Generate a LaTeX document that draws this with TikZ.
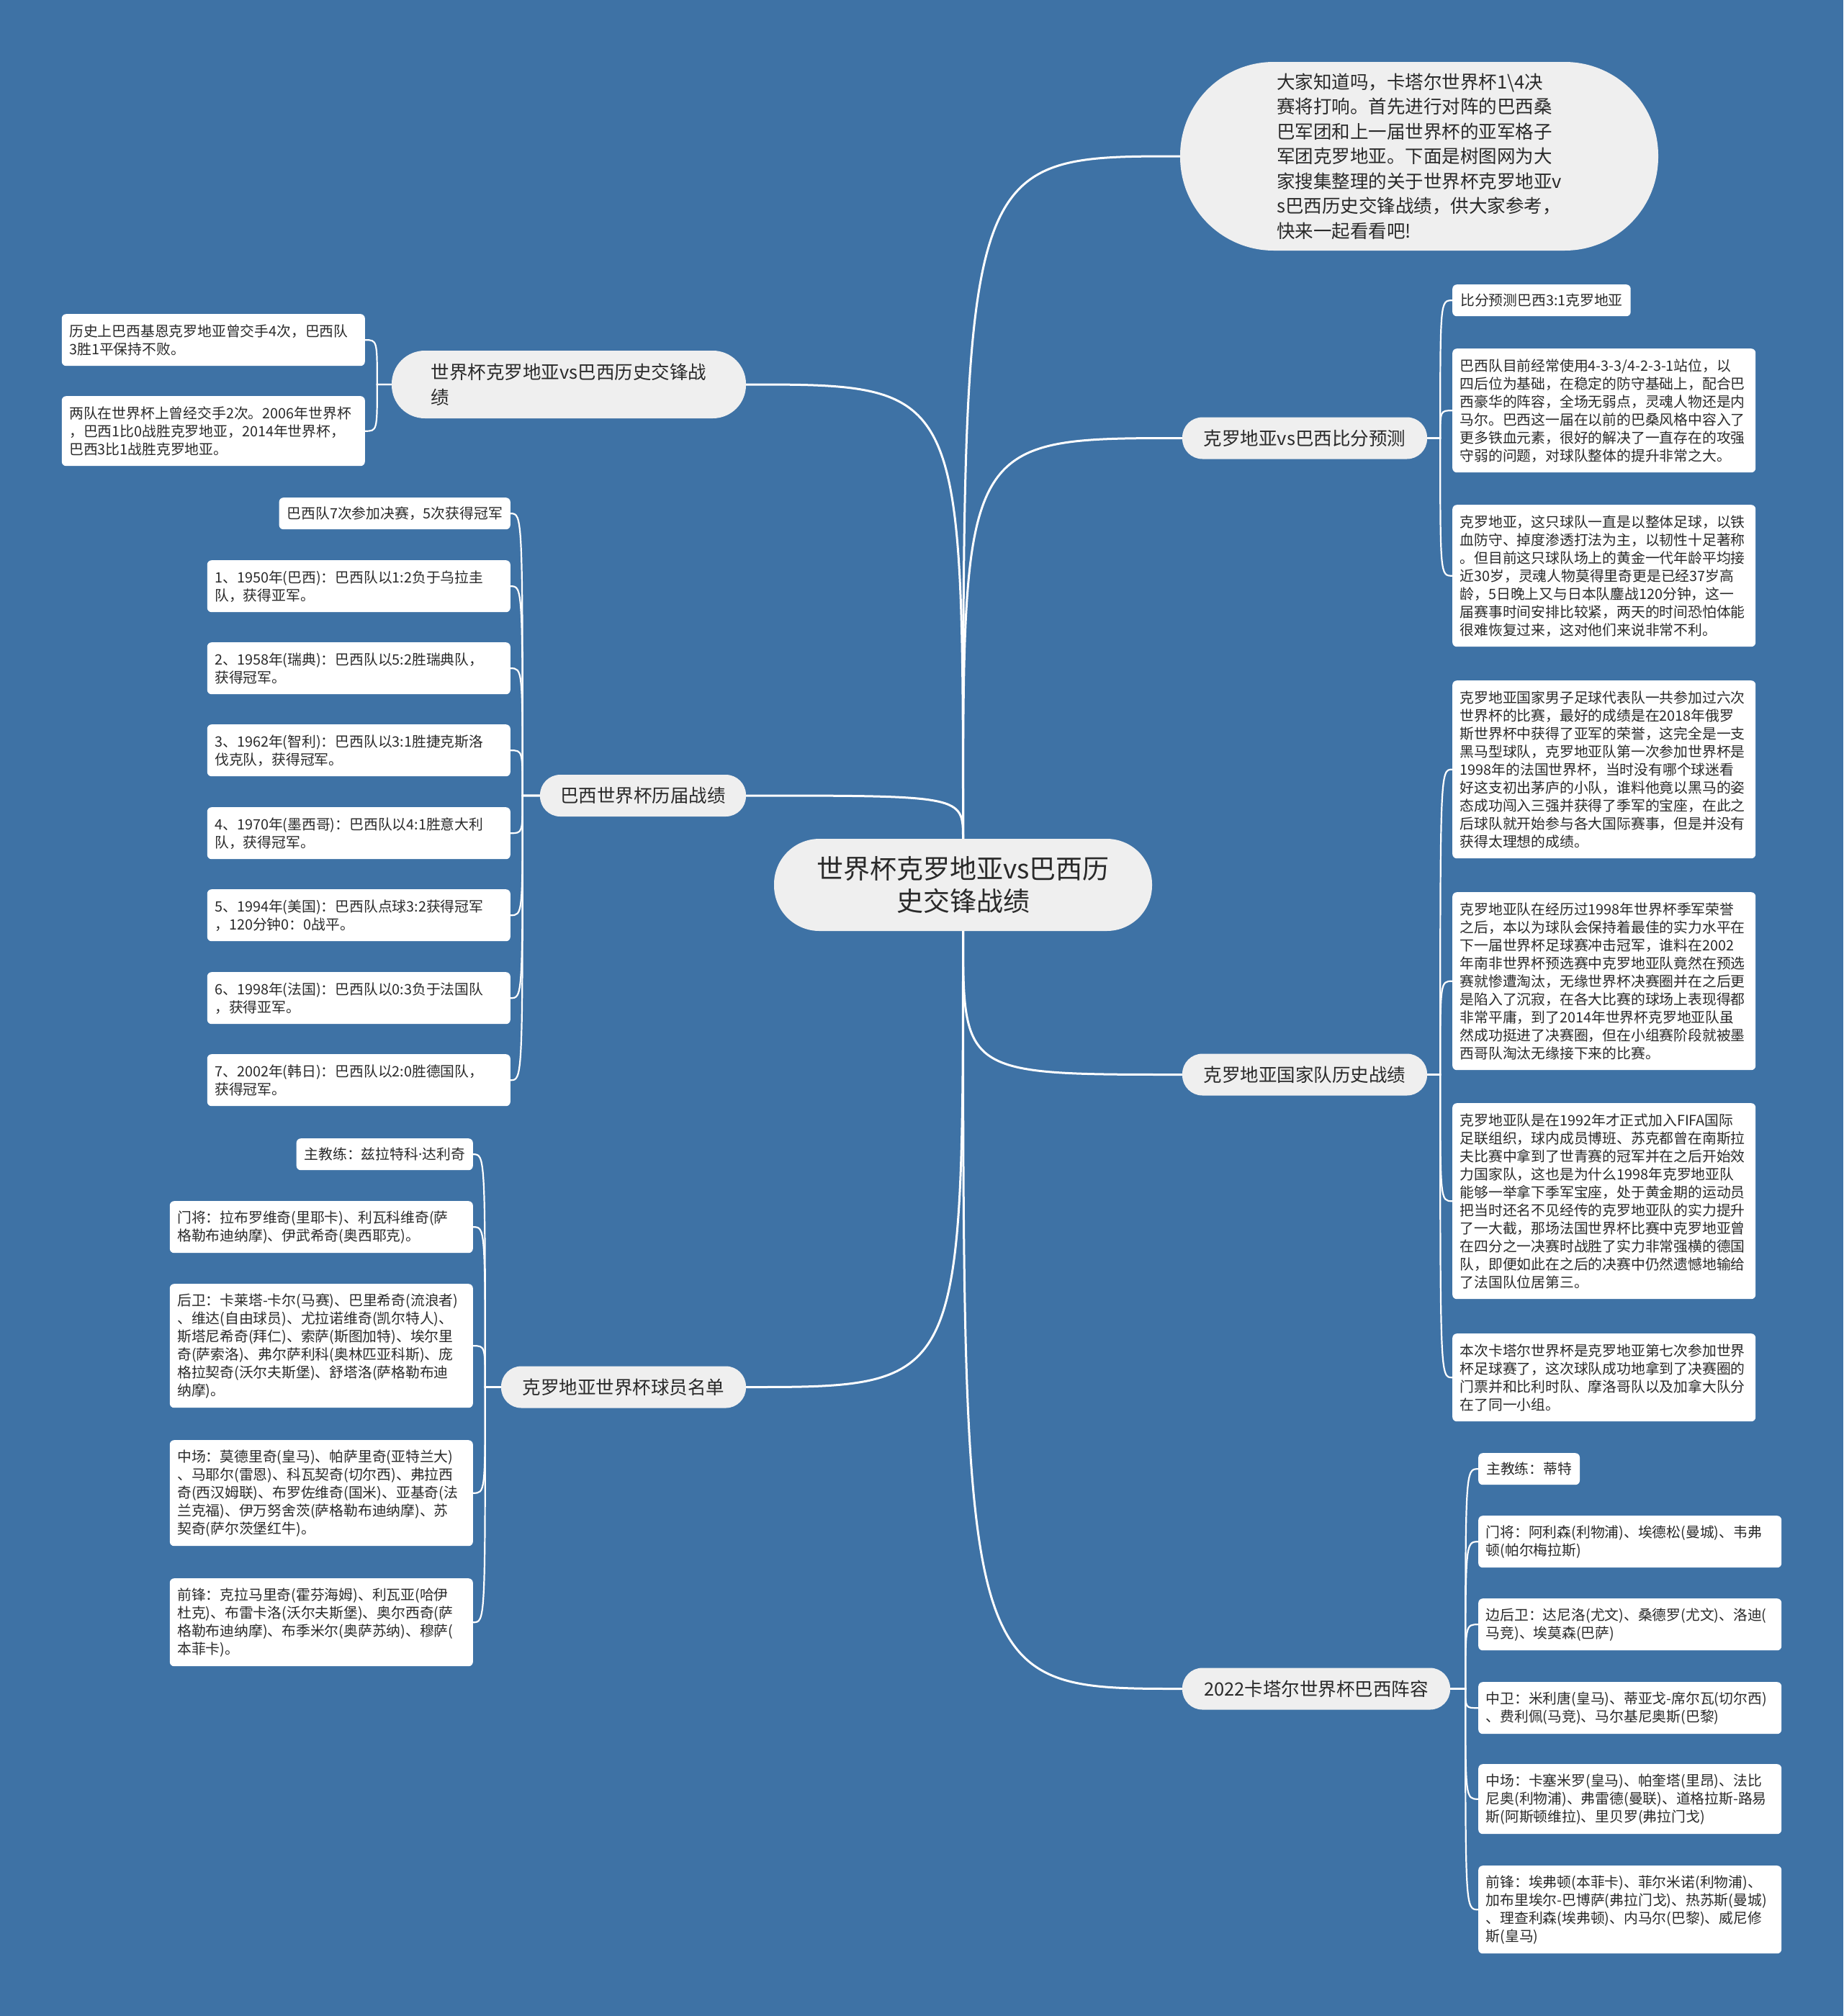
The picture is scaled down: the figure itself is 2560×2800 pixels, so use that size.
\documentclass[tikz,border=0pt]{standalone}
\usepackage{fontspec}
\setmainfont{Noto Sans CJK SC}
\newfontfamily\latinfont{Noto Sans}
\usetikzlibrary{calc}
\definecolor{bgblue}{HTML}{3E72A5}
\definecolor{pillgray}{HTML}{EFEFEF}
\definecolor{txt}{HTML}{2A2A2A}
\exhyphenpenalty=10000
\hyphenpenalty=10000
\begin{document}
\begin{tikzpicture}[x=1pt,y=-1pt,
  pill/.style={fill=pillgray, text=txt, inner sep=0pt, font=\fontsize{25.5}{35}\selectfont},
  leaf/.style={fill=white, text=txt, rounded corners=6pt, inner xsep=10.5pt, inner ysep=0pt, text width=400pt, align=left, minimum height=#1, font=\fontsize{19.8}{25}\selectfont},
  leafs/.style={fill=white, text=txt, rounded corners=6pt, inner xsep=11pt, inner ysep=0pt, minimum height=44pt, font=\fontsize{19.8}{25}\selectfont},
  conn/.style={draw=white, line width=3pt},
  sub/.style={draw=white, line width=2.2pt}]
\fill[bgblue] (0,0) rectangle (2560,2800);
\useasboundingbox (0,0) rectangle (2560,2800);

% ---------- centre and main branches ----------
\node[pill, minimum width=525pt, minimum height=128pt, rounded corners=63pt, align=center, font=\fontsize{37}{45}\selectfont] (c) at (1337.5,1229) {世界杯克罗地亚vs巴西历\\史交锋战绩};

\node[pill, minimum width=664pt, minimum height=262pt, rounded corners=130pt, align=left, font=\fontsize{25.5}{34.5}\selectfont] (intro) at (1971,217) {大家知道吗，卡塔尔世界杯1\textbackslash 4决\\赛将打响。首先进行对阵的巴西桑\\巴军团和上一届世界杯的亚军格子\\军团克罗地亚。下面是树图网为大\\家搜集整理的关于世界杯克罗地亚v\\s巴西历史交锋战绩，供大家参考，\\快来一起看看吧!};

\node[pill, minimum width=492pt, minimum height=94pt, rounded corners=46pt, align=left] (lb1) at (790,534) {世界杯克罗地亚vs巴西历史交锋战\\绩};
\node[pill, minimum width=286pt, minimum height=58pt, rounded corners=28pt] (lb2) at (893,1105) {巴西世界杯历届战绩};
\node[pill, minimum width=340pt, minimum height=58pt, rounded corners=28pt] (lb3) at (866,1926.5) {克罗地亚世界杯球员名单};
\node[pill, minimum width=340pt, minimum height=58pt, rounded corners=28pt] (rb1) at (1812,608.5) {克罗地亚vs巴西比分预测};
\node[pill, minimum width=340pt, minimum height=58pt, rounded corners=28pt] (rb2) at (1812,1492.5) {克罗地亚国家队历史战绩};
\node[pill, minimum width=372pt, minimum height=58pt, rounded corners=28pt] (rb3) at (1828,2345.5) {2022卡塔尔世界杯巴西阵容};

% ---------- left branch 1 leaves ----------
\node[leaf=72pt, anchor=north east] (l1a) at (507,436) {历史上巴西基恩克罗地亚曾交手4次，巴西队\\3胜1平保持不败。};
\node[leaf=97pt, anchor=north east] (l1b) at (507,550) {两队在世界杯上曾经交手2次。2006年世界杯\\，巴西1比0战胜克罗地亚，2014年世界杯，\\巴西3比1战胜克罗地亚。};

% ---------- left branch 2 leaves ----------
\node[leafs, anchor=north east] (l2a) at (709,691) {巴西队7次参加决赛，5次获得冠军};
\node[leaf=72pt, anchor=north east] (l2b) at (709,778) {1、1950年(巴西)：巴西队以1:2负于乌拉圭\\队，获得亚军。};
\node[leaf=72pt, anchor=north east] (l2c) at (709,892) {2、1958年(瑞典)：巴西队以5:2胜瑞典队，\\获得冠军。};
\node[leaf=72pt, anchor=north east] (l2d) at (709,1006) {3、1962年(智利)：巴西队以3:1胜捷克斯洛\\伐克队，获得冠军。};
\node[leaf=72pt, anchor=north east] (l2e) at (709,1121) {4、1970年(墨西哥)：巴西队以4:1胜意大利\\队，获得冠军。};
\node[leaf=72pt, anchor=north east] (l2f) at (709,1235) {5、1994年(美国)：巴西队点球3:2获得冠军\\，120分钟0：0战平。};
\node[leaf=72pt, anchor=north east] (l2g) at (709,1350) {6、1998年(法国)：巴西队以0:3负于法国队\\，获得亚军。};
\node[leaf=72pt, anchor=north east] (l2h) at (709,1464) {7、2002年(韩日)：巴西队以2:0胜德国队，\\获得冠军。};

% ---------- left branch 3 leaves ----------
\node[leafs, anchor=north east] (l3a) at (657,1581) {主教练：兹拉特科{\latinfont ·}达利奇};
\node[leaf=72pt, anchor=north east] (l3b) at (657,1668) {门将：拉布罗维奇(里耶卡)、利瓦科维奇(萨\\格勒布迪纳摩)、伊武希奇(奥西耶克)。};
\node[leaf=172pt, anchor=north east] (l3c) at (657,1783) {后卫：卡莱塔-卡尔(马赛)、巴里希奇(流浪者)\\、维达(自由球员)、尤拉诺维奇(凯尔特人)、\\斯塔尼希奇(拜仁)、索萨(斯图加特)、埃尔里\\奇(萨索洛)、弗尔萨利科(奥林匹亚科斯)、庞\\格拉契奇(沃尔夫斯堡)、舒塔洛(萨格勒布迪\\纳摩)。};
\node[leaf=147pt, anchor=north east] (l3d) at (657,2000) {中场：莫德里奇(皇马)、帕萨里奇(亚特兰大)\\、马耶尔(雷恩)、科瓦契奇(切尔西)、弗拉西\\奇(西汉姆联)、布罗佐维奇(国米)、亚基奇(法\\兰克福)、伊万努舍茨(萨格勒布迪纳摩)、苏\\契奇(萨尔茨堡红牛)。};
\node[leaf=122pt, anchor=north east] (l3e) at (657,2192) {前锋：克拉马里奇(霍芬海姆)、利瓦亚(哈伊\\杜克)、布雷卡洛(沃尔夫斯堡)、奥尔西奇(萨\\格勒布迪纳摩)、布季米尔(奥萨苏纳)、穆萨(\\本菲卡)。};

% ---------- right branch 1 leaves ----------
\node[leafs, anchor=north west] (r1a) at (2017,395) {比分预测巴西3:1克罗地亚};
\node[leaf=172pt, anchor=north west] (r1b) at (2017,484) {巴西队目前经常使用4-3-3/4-2-3-1站位，以\\四后位为基础，在稳定的防守基础上，配合巴\\西豪华的阵容，全场无弱点，灵魂人物还是内\\马尔。巴西这一届在以前的巴桑风格中容入了\\更多铁血元素，很好的解决了一直存在的攻强\\守弱的问题，对球队整体的提升非常之大。};
\node[leaf=197pt, anchor=north west] (r1c) at (2017,701) {克罗地亚，这只球队一直是以整体足球，以铁\\血防守、掉度渗透打法为主，以韧性十足著称\\。但目前这只球队场上的黄金一代年龄平均接\\近30岁，灵魂人物莫得里奇更是已经37岁高\\龄，5日晚上又与日本队鏖战120分钟，这一\\届赛事时间安排比较紧，两天的时间恐怕体能\\很难恢复过来，这对他们来说非常不利。};

% ---------- right branch 2 leaves ----------
\node[leaf=247pt, anchor=north west] (r2a) at (2017,945) {克罗地亚国家男子足球代表队一共参加过六次\\世界杯的比赛，最好的成绩是在2018年俄罗\\斯世界杯中获得了亚军的荣誉，这完全是一支\\黑马型球队，克罗地亚队第一次参加世界杯是\\1998年的法国世界杯，当时没有哪个球迷看\\好这支初出茅庐的小队，谁料他竟以黑马的姿\\态成功闯入三强并获得了季军的宝座，在此之\\后球队就开始参与各大国际赛事，但是并没有\\获得太理想的成绩。};
\node[leaf=247pt, anchor=north west] (r2b) at (2017,1239) {克罗地亚队在经历过1998年世界杯季军荣誉\\之后，本以为球队会保持着最佳的实力水平在\\下一届世界杯足球赛冲击冠军，谁料在2002\\年南非世界杯预选赛中克罗地亚队竟然在预选\\赛就惨遭淘汰，无缘世界杯决赛圈并在之后更\\是陷入了沉寂，在各大比赛的球场上表现得都\\非常平庸，到了2014年世界杯克罗地亚队虽\\然成功挺进了决赛圈，但在小组赛阶段就被墨\\西哥队淘汰无缘接下来的比赛。};
\node[leaf=272pt, anchor=north west] (r2c) at (2017,1532) {克罗地亚队是在1992年才正式加入FIFA国际\\足联组织，球内成员博班、苏克都曾在南斯拉\\夫比赛中拿到了世青赛的冠军并在之后开始效\\力国家队，这也是为什么1998年克罗地亚队\\能够一举拿下季军宝座，处于黄金期的运动员\\把当时还名不见经传的克罗地亚队的实力提升\\了一大截，那场法国世界杯比赛中克罗地亚曾\\在四分之一决赛时战胜了实力非常强横的德国\\队，即便如此在之后的决赛中仍然遗憾地输给\\了法国队位居第三。};
\node[leaf=122pt, anchor=north west] (r2d) at (2017,1852) {本次卡塔尔世界杯是克罗地亚第七次参加世界\\杯足球赛了，这次球队成功地拿到了决赛圈的\\门票并和比利时队、摩洛哥队以及加拿大队分\\在了同一小组。};

% ---------- right branch 3 leaves ----------
\node[leafs, anchor=north west] (r3a) at (2053,2018) {主教练：蒂特};
\node[leaf=72pt, anchor=north west] (r3b) at (2053,2105) {门将：阿利森(利物浦)、埃德松(曼城)、韦弗\\顿(帕尔梅拉斯)};
\node[leaf=72pt, anchor=north west] (r3c) at (2053,2220) {边后卫：达尼洛(尤文)、桑德罗(尤文)、洛迪(\\马竞)、埃莫森(巴萨)};
\node[leaf=72pt, anchor=north west] (r3d) at (2053,2336) {中卫：米利唐(皇马)、蒂亚戈-席尔瓦(切尔西)\\、费利佩(马竞)、马尔基尼奥斯(巴黎)};
\node[leaf=97pt, anchor=north west] (r3e) at (2053,2450) {中场：卡塞米罗(皇马)、帕奎塔(里昂)、法比\\尼奥(利物浦)、弗雷德(曼联)、道格拉斯-路易\\斯(阿斯顿维拉)、里贝罗(弗拉门戈)};
\node[leaf=122pt, anchor=north west] (r3f) at (2053,2591) {前锋：埃弗顿(本菲卡)、菲尔米诺(利物浦)、\\加布里埃尔-巴博萨(弗拉门戈)、热苏斯(曼城)\\、理查利森(埃弗顿)、内马尔(巴黎)、威尼修\\斯(皇马)};

% ---------- connectors: centre to branches ----------
\draw[conn] (c.north) .. controls (c.north |- intro.west) .. (intro.west);
\draw[conn] (c.north) .. controls (c.north |- rb1.west) .. (rb1.west);
\draw[conn] (c.north) .. controls (c.north |- lb1.east) .. (lb1.east);
\draw[conn] (c.north) .. controls (c.north |- lb2.east) .. (lb2.east);
\draw[conn] (c.south) .. controls (c.south |- rb2.west) .. (rb2.west);
\draw[conn] (c.south) .. controls (c.south |- rb3.west) .. (rb3.west);
\draw[conn] (c.south) .. controls (c.south |- lb3.east) .. (lb3.east);

% ---------- connectors: branches to leaves ----------
\coordinate (t1) at ($(lb1.west)+(-20,0)$);
\coordinate (t2) at ($(lb2.west)+(-24,0)$);
\coordinate (t3) at ($(lb3.west)+(-22,0)$);
\coordinate (u1) at ($(rb1.east)+(18,0)$);
\coordinate (u2) at ($(rb2.east)+(18,0)$);
\coordinate (u3) at ($(rb3.east)+(21,0)$);
\foreach \l in {l1a,l1b}
  \draw[sub] (lb1.west) -- (t1) .. controls (t1 |- \l.east) .. (\l.east);
\foreach \l in {l2a,l2b,l2c,l2d,l2e,l2f,l2g,l2h}
  \draw[sub] (lb2.west) -- (t2) .. controls (t2 |- \l.east) .. (\l.east);
\foreach \l in {l3a,l3b,l3c,l3d,l3e}
  \draw[sub] (lb3.west) -- (t3) .. controls (t3 |- \l.east) .. (\l.east);
\foreach \l in {r1a,r1b,r1c}
  \draw[sub] (rb1.east) -- (u1) .. controls (u1 |- \l.west) .. (\l.west);
\foreach \l in {r2a,r2b,r2c,r2d}
  \draw[sub] (rb2.east) -- (u2) .. controls (u2 |- \l.west) .. (\l.west);
\foreach \l in {r3a,r3b,r3c,r3d,r3e,r3f}
  \draw[sub] (rb3.east) -- (u3) .. controls (u3 |- \l.west) .. (\l.west);
\end{tikzpicture}
\end{document}
